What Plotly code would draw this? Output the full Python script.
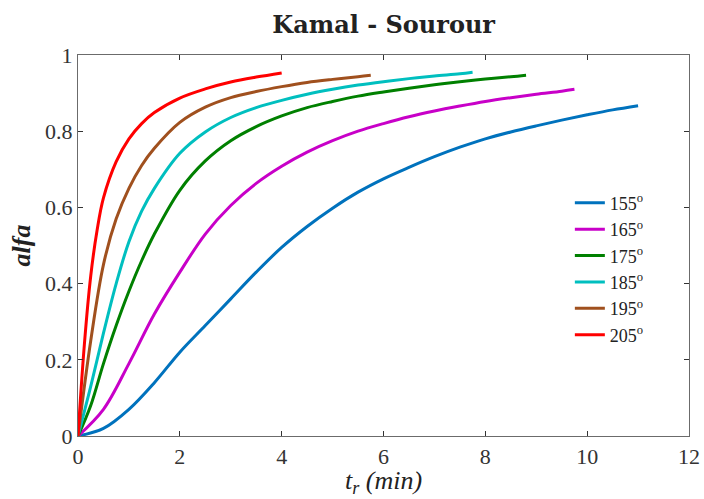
import plotly.graph_objects as go

# Degree of cure (alfa) vs. time for each cure temperature, Kamal-Sourour model
t_155 = [0, 0.5, 1, 1.5, 2, 2.5, 3, 3.5, 4, 4.5, 5, 5.5, 6, 6.5, 7, 7.5, 8, 8.5, 9, 9.5, 10, 10.5, 11]
a_155 = [0, 0.02, 0.07, 0.14, 0.22, 0.29, 0.36, 0.43, 0.495, 0.55, 0.598, 0.64, 0.675, 0.705, 0.733,
         0.758, 0.78, 0.798, 0.814, 0.829, 0.843, 0.856, 0.867]

t_165 = [0, 0.5, 1, 1.5, 2, 2.5, 3, 3.5, 4, 4.5, 5, 5.5, 6, 6.5, 7, 7.5, 8, 8.5, 9, 9.5, 9.75]
a_165 = [0, 0.07, 0.19, 0.32, 0.43, 0.53, 0.605, 0.663, 0.708, 0.745, 0.775, 0.80, 0.82, 0.838, 0.853,
         0.866, 0.878, 0.888, 0.897, 0.905, 0.91]

t_175 = [0, 0.25, 0.5, 0.75, 1, 1.25, 1.5, 2, 2.5, 3, 3.5, 4, 4.5, 5, 5.5, 6, 6.5, 7, 7.5, 8, 8.5, 8.8]
a_175 = [0, 0.08, 0.19, 0.29, 0.38, 0.46, 0.53, 0.645, 0.722, 0.775, 0.812, 0.84, 0.862, 0.878, 0.892,
         0.903, 0.913, 0.922, 0.93, 0.937, 0.943, 0.947]

t_185 = [0, 0.25, 0.5, 0.75, 1, 1.25, 1.5, 2, 2.5, 3, 3.5, 4, 4.5, 5, 5.5, 6, 6.5, 7, 7.5, 7.75]
a_185 = [0, 0.13, 0.27, 0.40, 0.51, 0.59, 0.65, 0.742, 0.798, 0.836, 0.862, 0.881, 0.897, 0.91, 0.921,
         0.93, 0.938, 0.945, 0.951, 0.955]

t_195 = [0, 0.25, 0.5, 0.75, 1, 1.25, 1.5, 2, 2.5, 3, 3.5, 4, 4.5, 5, 5.5, 5.75]
a_195 = [0, 0.25, 0.45, 0.57, 0.65, 0.71, 0.755, 0.823, 0.863, 0.888, 0.904, 0.917, 0.928, 0.936,
         0.943, 0.947]

t_205 = [0, 0.125, 0.25, 0.375, 0.5, 0.75, 1, 1.25, 1.5, 2, 2.5, 3, 3.5, 4]
a_205 = [0, 0.24, 0.42, 0.54, 0.625, 0.72, 0.78, 0.82, 0.849, 0.887, 0.911, 0.929, 0.942, 0.953]

labels = ["155<sup>o</sup>", "165<sup>o</sup>", "175<sup>o</sup>",
          "185<sup>o</sup>", "195<sup>o</sup>", "205<sup>o</sup>"]
colors = ["#0072BD", "#C800C8", "#008000", "#00BFBF", "#A0501E", "#FF0000"]

series = [(t_155, a_155), (t_165, a_165), (t_175, a_175),
          (t_185, a_185), (t_195, a_195), (t_205, a_205)]

FONT = "Liberation Serif, Times New Roman, DejaVu Serif, serif"

fig = go.Figure()
for (t, a), name, c in zip(series, labels, colors):
    fig.add_trace(go.Scatter(
        x=t, y=a, mode="lines", name=name,
        line=dict(color=c, width=3, shape="spline", smoothing=1.0),
    ))

axis_common = dict(
    showline=True, linecolor="#6b6b6b", linewidth=1.2, mirror="ticks",
    ticks="inside", ticklen=5, tickcolor="#333333", tickwidth=1,
    showgrid=False, zeroline=False, automargin=False,
    tickfont=dict(family=FONT, size=22, color="#333333"),
)

fig.update_layout(
    width=704, height=499,
    margin=dict(l=78, r=15, t=55, b=63, autoexpand=False),
    paper_bgcolor="white", plot_bgcolor="white",
    title=dict(text="<b>Kamal - Sourour</b>", x=0.545, xanchor="center", y=0.95, yanchor="middle",
               font=dict(family="DejaVu Serif, serif", size=24, color="#222222")),
    xaxis=dict(range=[0, 12], tickvals=[0, 2, 4, 6, 8, 10, 12], **axis_common),
    yaxis=dict(range=[0, 1], tickvals=[0, 0.2, 0.4, 0.6, 0.8, 1],
               ticktext=["0", "0.2", "0.4", "0.6", "0.8", "1"],
               title=dict(text="<b><i>alfa</i></b>", standoff=6,
                          font=dict(family=FONT, size=26, color="#222222")),
               **axis_common),
    legend=dict(x=0.805, y=0.66, xanchor="left", yanchor="top",
                bgcolor="rgba(0,0,0,0)", borderwidth=0,
                font=dict(family=FONT, size=18, color="#222222"),
                tracegroupgap=0, itemwidth=30),
    showlegend=True,
)

# x-axis label placed just under the tick labels
fig.add_annotation(
    text="<i>t<sub>r</sub> (min)</i>", xref="paper", yref="paper",
    x=0.5, y=0, xanchor="center", yanchor="top", yshift=-28, showarrow=False,
    font=dict(family=FONT, size=26, color="#222222"),
)

fig.write_html("out.html")
